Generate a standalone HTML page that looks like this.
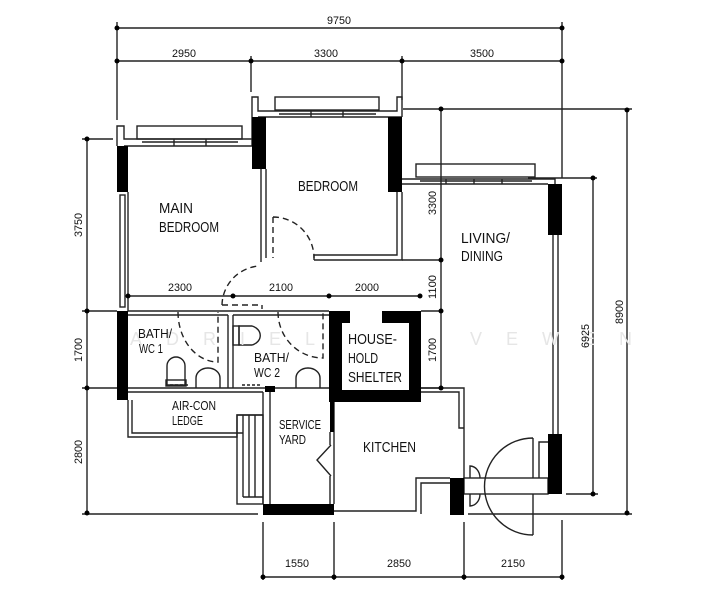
<!DOCTYPE html>
<html><head><meta charset="utf-8"><style>
html,body{margin:0;padding:0;background:#fff;}
svg{display:block;}
text{font-family:"Liberation Sans Narrow","Liberation Sans",sans-serif;fill:#111;}
.d{font-size:11px;}
</style></head><body>
<svg width="726" height="600" viewBox="0 0 726 600" xmlns="http://www.w3.org/2000/svg">
<g stroke="#222" stroke-width="1.4" fill="none">
<line x1="117" y1="28" x2="562" y2="28"/>
<line x1="117" y1="61" x2="562" y2="61"/>
<line x1="117" y1="22" x2="117" y2="120"/>
<line x1="251" y1="56" x2="251" y2="92"/>
<line x1="402" y1="56" x2="402" y2="100"/>
<line x1="562" y1="22" x2="562" y2="178"/>
<line x1="403" y1="109" x2="632" y2="109"/>
<line x1="528" y1="178" x2="597" y2="178"/>
<line x1="627" y1="109" x2="627" y2="513"/>
<line x1="593" y1="178" x2="593" y2="494"/>
<line x1="441" y1="109" x2="441" y2="388"/>
<line x1="402" y1="260" x2="441" y2="260"/>
<line x1="421" y1="311" x2="441" y2="311"/>
<line x1="421" y1="388" x2="441" y2="388"/>
<line x1="566" y1="494" x2="598" y2="494"/>
<line x1="87" y1="139" x2="87" y2="513"/>
<line x1="82" y1="139" x2="113" y2="139"/>
<line x1="82" y1="311" x2="117" y2="311"/>
<line x1="82" y1="388" x2="117" y2="388"/>
<line x1="82" y1="514" x2="258" y2="514"/>
<line x1="468" y1="514" x2="632" y2="514"/>
<line x1="263" y1="577" x2="562" y2="577"/>
<line x1="263" y1="522" x2="263" y2="580"/>
<line x1="334" y1="522" x2="334" y2="580"/>
<line x1="464" y1="522" x2="464" y2="580"/>
<line x1="562" y1="520" x2="562" y2="580"/>
<line x1="128" y1="296" x2="420" y2="296"/>

<polyline points="117,146 117,126 124,126 124,139 252,139"/>
<rect x="137" y="126" width="105" height="13"/>
<line x1="124" y1="146" x2="252" y2="146"/>
<line x1="142" y1="142" x2="238" y2="142"/>
<line x1="174" y1="139" x2="174" y2="146"/><line x1="206" y1="139" x2="206" y2="146"/>
<rect x="120" y="195" width="5" height="112"/>
<line x1="128" y1="192" x2="128" y2="311"/>
<polyline points="252,146 252,97 258,97 258,111 397,111 397,97 402,97 402,117"/>
<rect x="275" y="97" width="104" height="13"/>
<line x1="258" y1="117" x2="402" y2="117"/>
<line x1="279" y1="114" x2="376" y2="114"/>
<line x1="311" y1="111" x2="311" y2="117"/><line x1="343" y1="111" x2="343" y2="117"/>
<line x1="261" y1="169" x2="261" y2="262"/><line x1="266" y1="169" x2="266" y2="258"/>
<polyline points="314,255 397,255 397,192"/>
<polyline points="314,260 402,260 402,192"/>
<line x1="314" y1="255" x2="314" y2="260"/>
<path d="M273 217 L273 258 M273 217 A41 41 0 0 1 314 258" stroke-dasharray="6,4"/>
<polyline points="402,179 555,179 555,184"/>
<line x1="402" y1="184" x2="548" y2="184"/>
<rect x="416" y="164" width="119" height="13"/>
<line x1="420" y1="181" x2="532" y2="181"/>
<line x1="446" y1="179" x2="446" y2="184"/><line x1="474" y1="179" x2="474" y2="184"/><line x1="502" y1="179" x2="502" y2="184"/>
<line x1="553" y1="235" x2="553" y2="434"/><line x1="558" y1="235" x2="558" y2="434"/>
<path d="M222 305 A40 40 0 0 1 259 266 M222 305 L262 305 L262 309" stroke-dasharray="6,4"/>
<line x1="128" y1="311" x2="329" y2="311"/>
<line x1="128" y1="315" x2="228" y2="315"/>
<line x1="233" y1="315" x2="329" y2="315"/>
<line x1="228" y1="315" x2="228" y2="388"/><line x1="233" y1="315" x2="233" y2="388"/>
<line x1="128" y1="388" x2="329" y2="388"/>
<line x1="128" y1="392" x2="263" y2="392"/>
<path d="M170 385 h18 M242 385 h20" stroke-dasharray="3,2"/>
<path d="M178 312 A40 50 0 0 0 218 362 L218 312" stroke-dasharray="6,4"/>
<path d="M278 312 A45 46 0 0 0 323 358 L323 312" stroke-dasharray="6,4"/>
<path d="M167 385 L167 366 A9 9 0 0 1 185 366 L185 385 Z"/>
<rect x="166" y="380" width="20" height="6"/>
<path d="M196 388 L196 378 A12 10 0 0 1 220 378 L220 388"/>
<path d="M239 326 L252 326 A12 10 0 0 1 252 345 L239 345 Z"/>
<rect x="233" y="326" width="6" height="19"/>
<path d="M296 388 L296 378 A12 10 0 0 1 320 378 L320 388"/>
<polyline points="128,400 128,437 237,437 237,415 263,415"/>
<polyline points="132,400 132,433 243,433"/>
<rect x="237" y="415" width="26" height="89"/>
<line x1="243" y1="415" x2="243" y2="497"/><line x1="249" y1="415" x2="249" y2="497"/><line x1="255" y1="415" x2="255" y2="497"/><line x1="243" y1="497" x2="263" y2="497"/>
<line x1="263" y1="392" x2="263" y2="504"/><line x1="270" y1="392" x2="270" y2="504"/>
<line x1="330" y1="432" x2="330" y2="445"/><line x1="330" y1="476" x2="330" y2="504"/>
<line x1="334" y1="402" x2="334" y2="504"/>
<polyline points="331,445 317,460 331,476"/>
<polyline points="421,388 464,388 464,478"/>
<polyline points="421,392 459,392 459,428 464,428"/>
<polyline points="334,511 416,511 416,478 450,478"/>
<polyline points="421,514 421,483 450,483"/>
<rect x="464" y="478" width="84" height="16"/>
<path d="M533 438 A48 48 0 0 0 533 535 M533 438 L533 478 M533 494 L533 535"/>
<path d="M480 478 A10 12 0 0 0 470 466 L470 478 M480 494 A10 12 0 0 1 470 506 L470 494"/>
<polyline points="548,442 539,442 539,478"/>
</g>
<g fill="#000">
<rect x="117" y="146" width="11" height="46"/>
<rect x="252" y="117" width="14" height="52"/>
<rect x="388" y="117" width="14" height="75"/>
<rect x="548" y="184" width="14" height="51"/>
<rect x="548" y="434" width="14" height="60"/>
<rect x="117" y="311" width="11" height="89"/>
<rect x="263" y="504" width="71" height="11"/>
<rect x="450" y="478" width="14" height="37"/>
<rect x="330" y="402" width="4" height="30"/>
<rect x="265" y="386" width="10" height="6"/>
<path d="M329 311 H350 V323 H342 V390 H409 V323 H382 V311 H421 V402 H329 Z"/>
</g>
<g fill="#000">
<circle cx="117" cy="28" r="2.5"/><circle cx="562" cy="28" r="2.5"/>
<circle cx="117" cy="61" r="2.5"/><circle cx="251" cy="61" r="2.5"/><circle cx="402" cy="61" r="2.5"/><circle cx="562" cy="61" r="2.5"/>
<circle cx="627" cy="110" r="2.5"/><circle cx="627" cy="513" r="2.5"/>
<circle cx="593" cy="178" r="2.5"/><circle cx="593" cy="494" r="2.5"/>
<circle cx="441" cy="109" r="2.5"/><circle cx="441" cy="260" r="2.5"/><circle cx="441" cy="311" r="2.5"/><circle cx="441" cy="388" r="2.5"/>
<circle cx="87" cy="139" r="2.5"/><circle cx="87" cy="311" r="2.5"/><circle cx="87" cy="388" r="2.5"/><circle cx="87" cy="513" r="2.5"/>
<circle cx="128" cy="296" r="2.5"/><circle cx="233" cy="296" r="2.5"/><circle cx="329" cy="296" r="2.5"/><circle cx="420" cy="296" r="2.5"/>
<circle cx="263" cy="577" r="2.5"/><circle cx="334" cy="577" r="2.5"/><circle cx="464" cy="577" r="2.5"/><circle cx="562" cy="577" r="2.5"/>
</g>
<text x="130" y="345" style="font-size:18px;fill:#e6e6e6;letter-spacing:24px">ADRIEL</text>
<text x="470" y="345" style="font-size:18px;fill:#e6e6e6;letter-spacing:24px">VEWEN</text>
<g class="d" text-anchor="middle" lengthAdjust="spacingAndGlyphs">
<text x="339" y="24" textLength="24" lengthAdjust="spacingAndGlyphs">9750</text>
<text x="184" y="57" textLength="24" lengthAdjust="spacingAndGlyphs">2950</text>
<text x="326" y="57" textLength="24" lengthAdjust="spacingAndGlyphs">3300</text>
<text x="482" y="57" textLength="24" lengthAdjust="spacingAndGlyphs">3500</text>
<text x="180" y="291" textLength="24" lengthAdjust="spacingAndGlyphs">2300</text>
<text x="281" y="291" textLength="24" lengthAdjust="spacingAndGlyphs">2100</text>
<text x="367" y="291" textLength="24" lengthAdjust="spacingAndGlyphs">2000</text>
<text x="297" y="567" textLength="24" lengthAdjust="spacingAndGlyphs">1550</text>
<text x="399" y="567" textLength="24" lengthAdjust="spacingAndGlyphs">2850</text>
<text x="513" y="567" textLength="24" lengthAdjust="spacingAndGlyphs">2150</text>
<text transform="translate(436,203) rotate(-90)" textLength="24" lengthAdjust="spacingAndGlyphs">3300</text>
<text transform="translate(436,287) rotate(-90)" textLength="24" lengthAdjust="spacingAndGlyphs">1100</text>
<text transform="translate(436,350) rotate(-90)" textLength="24" lengthAdjust="spacingAndGlyphs">1700</text>
<text transform="translate(82,225) rotate(-90)" textLength="24" lengthAdjust="spacingAndGlyphs">3750</text>
<text transform="translate(82,350) rotate(-90)" textLength="24" lengthAdjust="spacingAndGlyphs">1700</text>
<text transform="translate(82,452) rotate(-90)" textLength="24" lengthAdjust="spacingAndGlyphs">2800</text>
<text transform="translate(623,312) rotate(-90)" textLength="24" lengthAdjust="spacingAndGlyphs">8900</text>
<text transform="translate(589,336) rotate(-90)" textLength="24" lengthAdjust="spacingAndGlyphs">6925</text>
</g>
<g style="font-size:15px">
<text x="298" y="191" textLength="60" lengthAdjust="spacingAndGlyphs">BEDROOM</text>
<text x="159" y="213" textLength="34" lengthAdjust="spacingAndGlyphs">MAIN</text>
<text x="159" y="232" textLength="60" lengthAdjust="spacingAndGlyphs">BEDROOM</text>
<text x="461" y="243" textLength="49" lengthAdjust="spacingAndGlyphs">LIVING/</text>
<text x="461" y="261" textLength="42" lengthAdjust="spacingAndGlyphs">DINING</text>
<text x="138" y="338" style="font-size:13px" textLength="34" lengthAdjust="spacingAndGlyphs">BATH/</text>
<text x="139" y="353" style="font-size:13px" textLength="24" lengthAdjust="spacingAndGlyphs">WC 1</text>
<text x="254" y="362" style="font-size:13px" textLength="35" lengthAdjust="spacingAndGlyphs">BATH/</text>
<text x="254" y="377" style="font-size:13px" textLength="26" lengthAdjust="spacingAndGlyphs">WC 2</text>
<text x="348" y="344" textLength="49" lengthAdjust="spacingAndGlyphs">HOUSE-</text>
<text x="348" y="363" textLength="30" lengthAdjust="spacingAndGlyphs">HOLD</text>
<text x="348" y="382" textLength="54" lengthAdjust="spacingAndGlyphs">SHELTER</text>
<text x="172" y="410" style="font-size:13px" textLength="44" lengthAdjust="spacingAndGlyphs">AIR-CON</text>
<text x="172" y="425" style="font-size:13px" textLength="31" lengthAdjust="spacingAndGlyphs">LEDGE</text>
<text x="279" y="429" style="font-size:13px" textLength="42" lengthAdjust="spacingAndGlyphs">SERVICE</text>
<text x="279" y="444" style="font-size:13px" textLength="27" lengthAdjust="spacingAndGlyphs">YARD</text>
<text x="363" y="452" textLength="53" lengthAdjust="spacingAndGlyphs">KITCHEN</text>
</g>
</svg>
</body></html>
